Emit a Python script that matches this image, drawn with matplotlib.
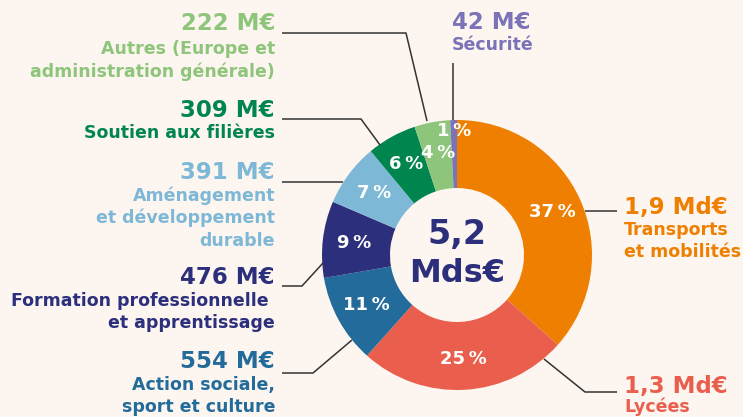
import numpy as np
import matplotlib.pyplot as plt

# budget par politique, en M€ (sens horaire depuis le haut)
categories = ['Transports\net mobilités', 'Lycées', 'Action sociale,\nsport et culture',
              'Formation professionnelle \net apprentissage',
              'Aménagement\net développement\ndurable', 'Soutien aux filières',
              'Autres (Europe et\nadministration générale)', 'Sécurité']
values = [1900, 1300, 554, 476, 391, 309, 222, 42]
amounts = ['1,9 Md€', '1,3 Md€', '554 M€', '476 M€', '391 M€', '309 M€', '222 M€', '42 M€']
pct_labels = ['37\u202f%', '25\u202f%', '11\u202f%', '9\u202f%', '7\u202f%', '6\u202f%', '4\u202f%', '1\u202f%']
colors = ['#EF7F00', '#EA5E4E', '#236B9A', '#2B2F7C', '#7DB8D6', '#00854F', '#8DC57A', '#7B72B8']
total_label = '5,2\nMds€'

bg = '#FDF5EF'
W, H = 743, 417

fig = plt.figure(figsize=(7.43, 4.17), dpi=100, facecolor=bg)
ax = fig.add_axes([0, 0, 1, 1])
ax.set_facecolor(bg)

cx, cy, R = 457, H - 255, 135
wedges, _ = ax.pie(values, colors=colors, startangle=90, counterclock=False,
                   center=(cx, cy), radius=R,
                   wedgeprops=dict(width=68, edgecolor='none'))
ax.set_xlim(0, W)
ax.set_ylim(0, H)
ax.set_aspect('equal')
ax.axis('off')

# pourcentages dans l'anneau
for i, w in enumerate(wedges):
    ang = np.deg2rad((w.theta1 + w.theta2) / 2)
    r = 124 if i == len(wedges) - 1 else 104
    ax.text(cx + r * np.cos(ang), cy + r * np.sin(ang), pct_labels[i],
            color='white', fontsize=13, fontweight='heavy',
            ha='center', va='center')

ax.text(cx, cy + 21, total_label.split('\n')[0], color='#2B2F7C', fontsize=24,
        fontweight='heavy', ha='center', va='center')
ax.text(cx, cy - 18, total_label.split('\n')[1], color='#2B2F7C', fontsize=23,
        fontweight='heavy', ha='center', va='center')


def y(p):
    return H - p


# étiquettes : (x, y montant, décalage du libellé, alignement)
label_pos = [(624, 207, 14, 'left'), (624, 386, 12, 'left'), (275, 362, 14, 'right'),
             (275, 278, 14, 'right'), (275, 172, 14, 'right'), (275, 110, 14, 'right'),
             (275, 23, 17, 'right'), (452, 22, 14, 'left')]
for i, (lx, ly, dy, ha) in enumerate(label_pos):
    ax.text(lx, y(ly), amounts[i], color=colors[i], fontsize=16.5,
            fontweight='heavy', ha=ha, va='center')
    ax.text(lx, y(ly + dy), categories[i], color=colors[i], fontsize=12.5,
            fontweight='bold', ha=ha, va='top', linespacing=1.3)

# traits de rappel
leaders = [
    ([585, 617], [211, 211]),
    ([544, 585, 617], [359, 392, 392]),
    ([282, 313, 352], [373, 373, 340]),
    ([282, 302, 323], [286, 286, 263]),
    ([282, 343], [182, 182]),
    ([282, 361, 380], [119, 119, 145]),
    ([282, 406, 427], [33, 33, 121]),
    ([453, 453], [63, 120]),
]
for xs, ys in leaders:
    ax.plot(xs, [y(v) for v in ys], color='#333333', lw=1.1, solid_capstyle='butt')

fig.savefig('out.png', dpi=100, facecolor=bg)
